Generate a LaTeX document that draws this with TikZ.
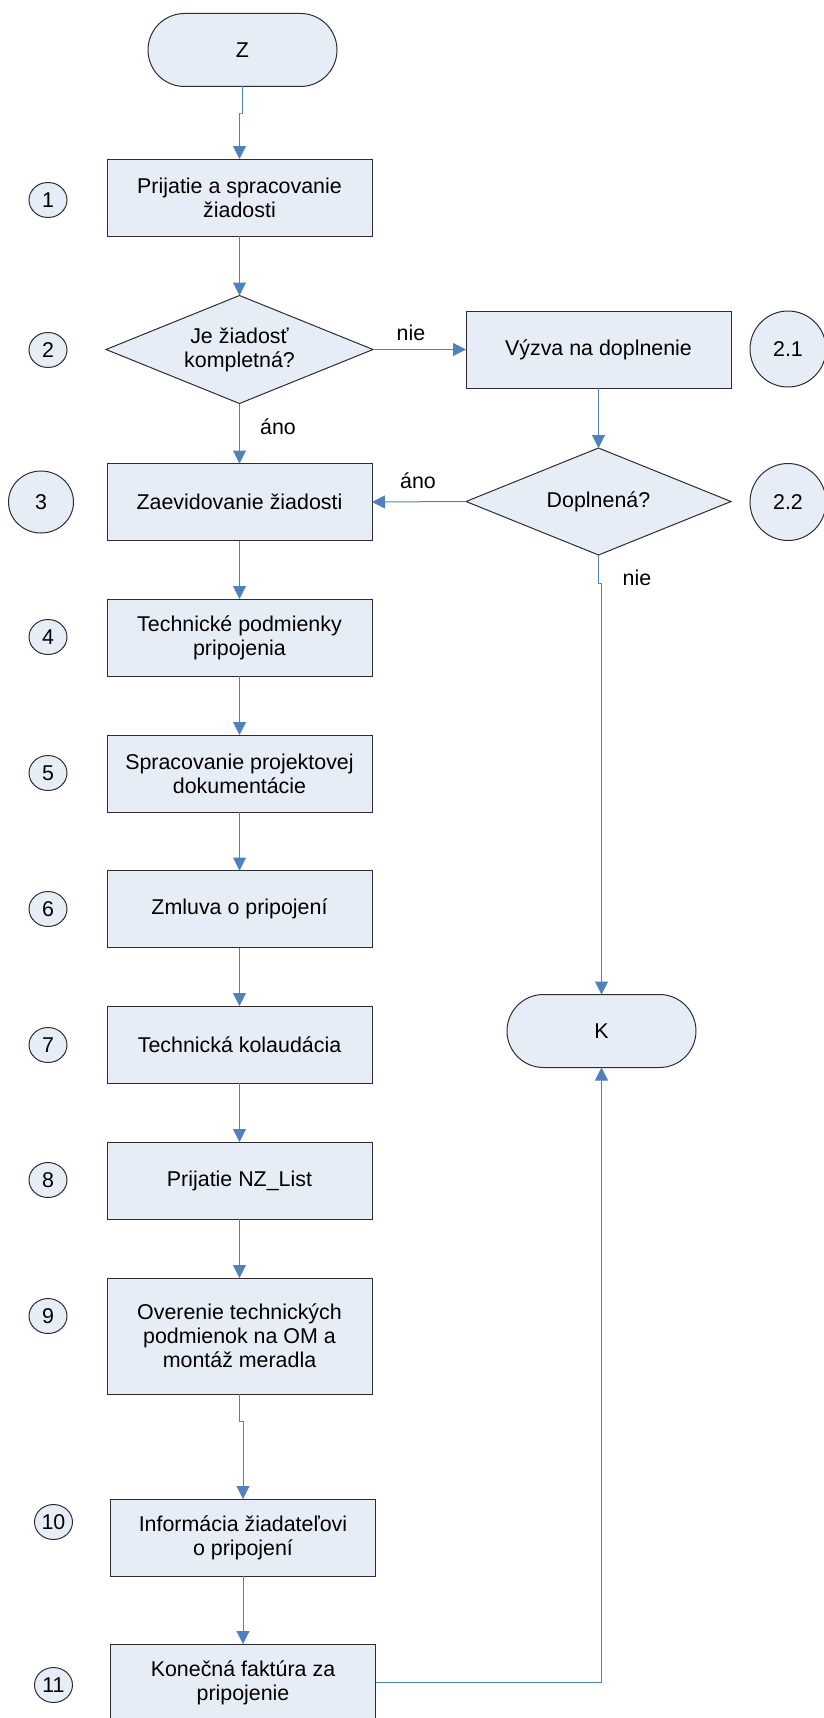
\documentclass[tikz,border=0pt]{standalone}
\usepackage{fontspec}
\setmainfont{Liberation Sans}
\usetikzlibrary{shapes.geometric, shapes.misc, arrows.meta}
\definecolor{fillblue}{RGB}{231,237,247}
\definecolor{lineblue}{RGB}{79,129,189}
\definecolor{edgegray}{RGB}{45,45,45}

\begin{document}
\begin{tikzpicture}[x=1pt, y=-1pt,
  every node/.style = {font=\fontsize{21.4}{24}\selectfont},
  term/.style = {draw=edgegray, line width=1pt, fill=fillblue, rounded rectangle, minimum width=189pt, minimum height=73pt, inner sep=0pt, outer sep=0pt},
  box/.style = {draw=edgegray, line width=1pt, fill=fillblue, rectangle, minimum width=265pt, minimum height=77pt, align=center, inner sep=0pt, outer sep=0pt},
  dec/.style = {draw=edgegray, line width=1pt, fill=fillblue, diamond, aspect=2.45, minimum width=267pt, minimum height=108pt, align=center, inner sep=0pt, outer sep=0pt},
  num/.style = {draw=edgegray, line width=1pt, fill=fillblue, ellipse, minimum width=38pt, minimum height=35pt, inner sep=0pt},
  bignum/.style = {num, minimum width=65pt, minimum height=62pt},
  arr/.style = {draw=lineblue, line width=1pt, -{Triangle[length=13pt, width=13pt]}},
  lbl/.style = {inner sep=0pt}]

\useasboundingbox (0,0) rectangle (823,1718);

%% flow boxes
\node[term] (start) at (242.5, 50) {Z};
\node[box] (b1) at (239.5, 197.5) {Prijatie a spracovanie\\žiadosti};
\node[dec] (d2) at (239.5, 349.5) {Je žiadosť\\kompletná?};
\node[box] (b21) at (598.5, 349.5) {Výzva na doplnenie};
\node[dec, minimum width=265pt, minimum height=107pt] (d22) at (598.5, 501.5) {Doplnená?};
\node[box] (b3) at (239.5, 502) {Zaevidovanie žiadosti};
\node[box] (b4) at (239.5, 637.5) {Technické podmienky\\pripojenia};
\node[box] (b5) at (239.5, 773.5) {Spracovanie projektovej\\dokumentácie};
\node[box] (b6) at (239.5, 909) {Zmluva o pripojení};
\node[box] (b7) at (239.5, 1044.5) {Technická kolaudácia};
\node[box] (b8) at (239.5, 1180.5) {Prijatie NZ\_List};
\node[box, minimum height=116pt] (b9) at (239.5, 1336) {Overenie technických\\podmienok na OM a\\montáž meradla};
\node[box] (b10) at (243, 1537.5) {Informácia žiadateľovi\\o pripojení};
\node[box] (b11) at (243, 1682.5) {Konečná faktúra za\\pripojenie};
\node[term] (end) at (601.5, 1031) {K};

%% step numbers
\node[num] (n1) at (48, 200) {1};
\node[num] (n2) at (48, 350) {2};
\node[bignum] (n3) at (41, 502) {3};
\node[num] (n4) at (48, 637) {4};
\node[num] (n5) at (48, 773) {5};
\node[num] (n6) at (48, 909) {6};
\node[num] (n7) at (48, 1045) {7};
\node[num] (n8) at (48, 1180) {8};
\node[num] (n9) at (48, 1316) {9};
\node[num] (n10) at (53.5, 1522) {10};
\node[num] (n11) at (53.5, 1685) {11};
\node[num, minimum width=76pt, minimum height=76pt] (n21) at (788, 349) {2.1};
\node[num, minimum width=76pt, minimum height=77pt] (n22) at (788, 502) {2.2};

%% branch labels
\node[lbl] (nie1) at (411, 333) {nie};
\node[lbl] (ano1) at (278, 427) {áno};
\node[lbl] (ano2) at (418, 481) {áno};
\node[lbl] (nie2) at (637, 578) {nie};

%%% connectors
\coordinate (j1) at (241, 114);
\coordinate (j2) at (600, 583);
\coordinate (j3) at (241, 1421);
\draw[arr] (start.south) |- (j1) -| (b1.north);
\draw[arr] (b1) -- (d2);
\draw[arr] (d2.east) -- (b21.west);
\draw[arr] (d2.south) -- (b3.north);
\draw[arr] (b21) -- (d22);
\draw[arr] (d22.west) -- (b3.east);
\draw[arr] (d22.south) |- (j2) -| (end.north);
\draw[arr] (b3) -- (b4);
\draw[arr] (b4) -- (b5);
\draw[arr] (b5) -- (b6);
\draw[arr] (b6) -- (b7);
\draw[arr] (b7) -- (b8);
\draw[arr] (b8) -- (b9);
\draw[arr] (b9.south) |- (j3) -| (b10.north);
\draw[arr] (b10) -- (b11);
\draw[arr] (b11.east) -| (end.south);

\end{tikzpicture}
\end{document}
